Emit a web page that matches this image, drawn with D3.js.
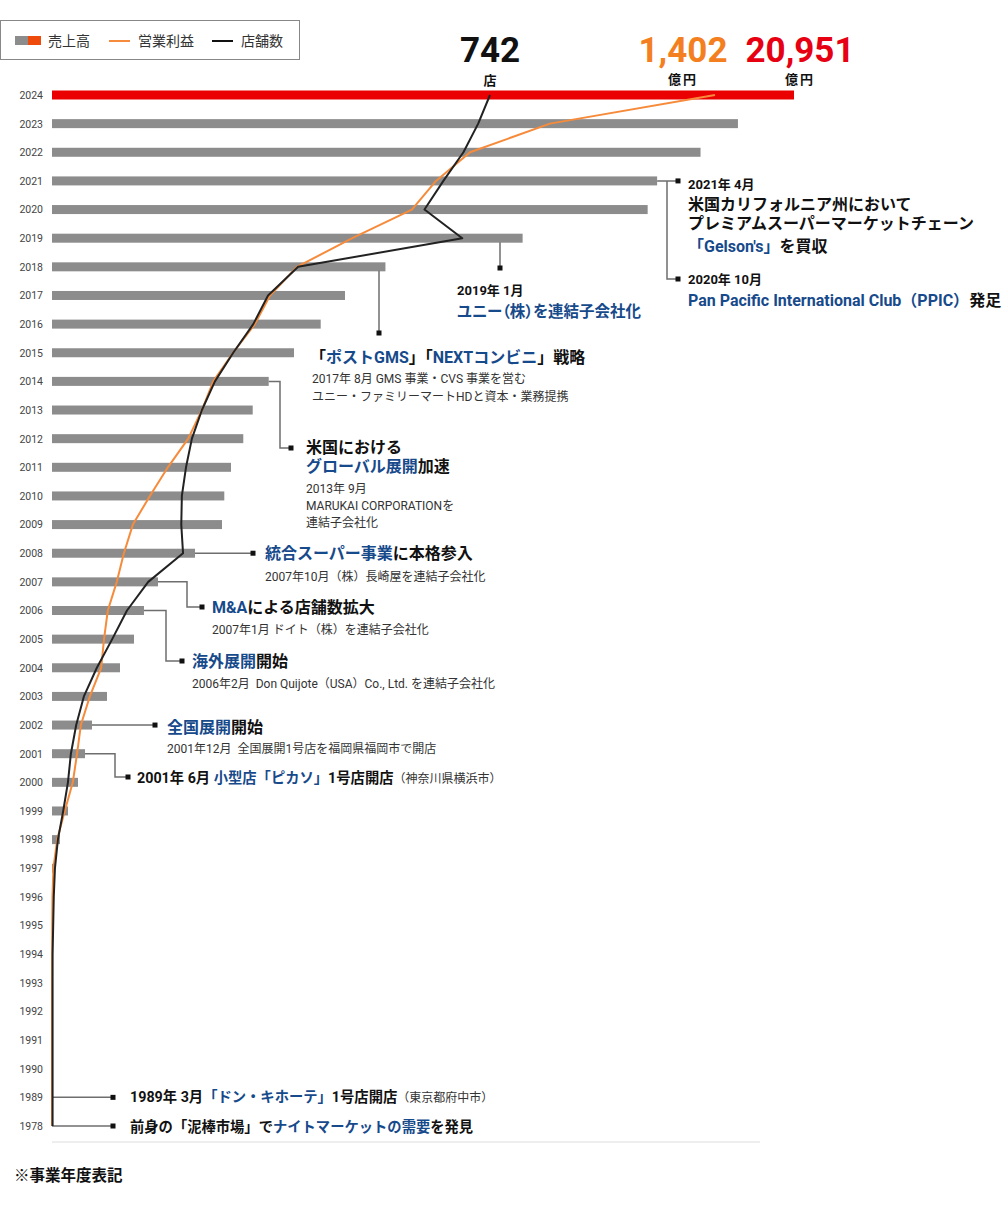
<!DOCTYPE html>
<html><head><meta charset="utf-8">
<script src="https://cdn.jsdelivr.net/npm/d3@7"></script>
<style>
body{margin:0;background:#fff;}
svg text{font-family:Roboto,"Noto Sans CJK JP",sans-serif;}
</style></head><body>
<svg id="c" width="1008" height="1215"></svg>
<script>
const years = ["2024","2023","2022","2021","2020","2019","2018","2017","2016","2015","2014","2013","2012","2011","2010","2009","2008","2007","2006","2005","2004","2003","2002","2001","2000","1999","1998","1997","1996","1995","1994","1993","1992","1991","1990","1989","1978"];
// 売上高（億円）
const sales = [20951,19368,18312,17086,16819,13288,9415,8273,7587,6833,6119,5667,5401,5054,4865,4800,4038,2993,2597,2315,1920,1553,1129,932,734,452,226,85,56,28,14,8,5,3,2,1,0];
// 営業利益（億円）
const profit = [1402,1053,884,812,761,635,518,461,429,383,341,317,288,245,207,171,152,137,118,110,104,80,61,53,44,27,11,3,1,0.5,0.3,0,0,0,0,0,0];
// 店舗数
const stores = [742,722,697,663,631,695,417,366,341,307,276,254,237,227,220,219,222,163,127,102,76,54,41,32,27,19,10,5,3,2,1,1,1,1,1,1,1];
const legendLabels = ["売上高","営業利益","店舗数"];

const BLUE = "#174a8b", ORANGE = "#f68b3b", RED = "#ea0000", GRAY = "#8c8c8c";
const svg = d3.select("#c");

const y = d3.scalePoint().domain(years).range([95, 1126]);
const xS = d3.scaleLinear().domain([0, sales[0]]).range([52, 794]);
const xP = d3.scaleLinear().domain([0, profit[0]]).range([52, 715]);
const xN = d3.scaleLinear().domain([0, stores[0]]).range([52, 490]);

// year axis
const ax = svg.append("g").attr("transform","translate(43,0)")
  .call(d3.axisLeft(y).tickSize(0).tickPadding(0));
ax.select(".domain").remove();
ax.selectAll("text").attr("font-size","10.5px").attr("fill","#444")
  .style("font-family","Roboto, 'Noto Sans CJK JP'");

// bottom baseline
svg.append("line").attr("x1",52).attr("x2",760).attr("y1",1142).attr("y2",1142)
  .attr("stroke","#ddd").attr("stroke-width",1);

// bars
svg.append("g").selectAll("rect").data(years).join("rect")
  .attr("x", xS(0))
  .attr("y", d => y(d) - 4.5)
  .attr("height", 9)
  .attr("width", (d,i) => Math.max(0, xS(sales[i]) - xS(0)))
  .attr("fill", (d,i) => i === 0 ? RED : GRAY);

// annotation connectors
const conn = svg.append("g").attr("fill","none").attr("stroke","#6e6e6e").attr("stroke-width",1.5);
const sq = svg.append("g").attr("fill","#111");
function square(x, yy){ sq.append("rect").attr("x",x-2.5).attr("y",yy-2.5).attr("width",5).attr("height",5); }
const idx = yr => years.indexOf(yr);
const be = yr => xS(sales[idx(yr)]);
const ry = yr => y(yr);

conn.append("path").attr("d", `M${be("2021")},${ry("2021")}H667V279H678M667,${ry("2021")}H678`);
square(678, ry("2021")); square(678, 279);
conn.append("path").attr("d", `M500,${ry("2019")+4}V268`); square(500,268);
conn.append("path").attr("d", `M379,${ry("2018")+4}V333`); square(379,333);
conn.append("path").attr("d", `M${be("2014")},${ry("2014")}H280V448H291`); square(291,448);
conn.append("path").attr("d", `M${be("2008")},${ry("2008")}H253`); square(253, ry("2008"));
conn.append("path").attr("d", `M${be("2007")},${ry("2007")}H187V607H202`); square(202,607);
conn.append("path").attr("d", `M${be("2006")},${ry("2006")}H166V661H182`); square(182,661);
conn.append("path").attr("d", `M${be("2002")},${ry("2002")}H155`); square(155, ry("2002"));
conn.append("path").attr("d", `M${be("2001")},${ry("2001")}H115V777H128`); square(128,777);
conn.append("path").attr("d", `M52,${ry("1989")}H113`); square(113, ry("1989"));
conn.append("path").attr("d", `M52,${ry("1978")}H113`); square(113, ry("1978"));

// lines
const lineP = d3.line().x((d,i)=>xP(profit[i])).y(d=>y(d));
const lineN = d3.line().x((d,i)=>xN(stores[i])).y(d=>y(d));
svg.append("path").datum(years).attr("d", lineP).attr("fill","none")
  .attr("stroke", ORANGE).attr("stroke-width",2).attr("stroke-linejoin","round");
svg.append("path").datum(years).attr("d", lineN).attr("fill","none")
  .attr("stroke", "#222").attr("stroke-width",2).attr("stroke-linejoin","round");

// text helper: segments [text, color, size, weight]
function txt(x, yy, segs, opts={}){
  const t = svg.append("text").attr("x",x).attr("y",yy).attr("dy","0.35em")
    .style("white-space","pre");
  if (opts.palt) t.style("font-feature-settings", "'palt'");
  segs.forEach(s => {
    t.append("tspan").text(s[0]).attr("fill", s[1] || "#111")
      .attr("font-size", (s[2]||16)+"px").attr("font-weight", s[3]||700);
  });
  return t;
}
const B = null;
const small = (s) => [s, "#333", 12, 400];
const F = 14.3;

txt(688, 183, [["2021年 4月", B, 13]]);
txt(688, 204, [["米国カリフォルニア州において", B, 16]]);
txt(688, 223, [["プレミアムスーパーマーケットチェーン", B, 16]]);
txt(688, 246, [["「Gelson's」", BLUE, 16],["を買収", B, 16]]);
txt(688, 278, [["2020年 10月", B, 13]]);
txt(688, 300, [["Pan Pacific International Club（PPIC）", BLUE, 16],["発足", B, 16]]);
txt(457, 289, [["2019年 1月", B, 13]]);
txt(457, 311, [["ユニー（株）を連結子会社化", BLUE, 15.5]], {palt:true});
txt(310, 357, [["「", B],["ポストGMS", BLUE],["」「", B],["NEXTコンビニ", BLUE],["」戦略", B]]);
txt(312, 377, [small("2017年 8月 GMS 事業・CVS 事業を営む")]);
txt(312, 395, [small("ユニー・ファミリーマートHDと資本・業務提携")]);
txt(306, 447, [["米国における", B]]);
txt(306, 466, [["グローバル展開", BLUE],["加速", B]]);
txt(306, 487, [small("2013年 9月")]);
txt(306, 504, [small("MARUKAI CORPORATIONを")]);
txt(306, 521, [small("連結子会社化")]);
txt(265, 553, [["統合スーパー事業", BLUE],["に本格参入", B]]);
txt(265, 575, [small("2007年10月（株）長崎屋を連結子会社化")]);
txt(212, 607, [["M&A", BLUE],["による店舗数拡大", B]]);
txt(212, 628, [small("2007年1月 ドイト（株）を連結子会社化")]);
txt(192, 661, [["海外展開", BLUE],["開始", B]]);
txt(192, 682, [small("2006年2月  Don Quijote（USA）Co., Ltd. を連結子会社化")]);
txt(167, 727, [["全国展開", BLUE],["開始", B]]);
txt(167, 747, [small("2001年12月  全国展開1号店を福岡県福岡市で開店")]);
txt(137, 777, [["2001年 6月 ", B, F],["小型店「ピカソ」", BLUE, F],["1号店開店", B, F],["（神奈川県横浜市）", "#333", 12, 400]]);
txt(130, 1096, [["1989年 3月", B, F],["「ドン・キホーテ」", BLUE, F],["1号店開店", B, F],["（東京都府中市）", "#333", 12, 400]]);
txt(130, 1126, [["前身の「泥棒市場」で", B, F],["ナイトマーケットの需要", BLUE, F],["を発見", B, F]]);

// totals at top
const fmt = d3.format(",");
svg.append("text").attr("x", xN(stores[0])).attr("y", 62).attr("text-anchor","middle")
  .attr("font-size","35px").attr("font-weight",700).attr("fill","#111").text(fmt(stores[0]));
svg.append("text").attr("x", xN(stores[0])).attr("y", 80).attr("dy","0.35em").attr("text-anchor","middle")
  .attr("font-size","13px").attr("font-weight",700).attr("fill","#111").text("店");
svg.append("text").attr("x", xP(profit[0]) - 32).attr("y", 62).attr("text-anchor","middle")
  .attr("font-size","35px").attr("font-weight",700).attr("fill","#f47f20").text(fmt(profit[0]));
svg.append("text").attr("x", xP(profit[0]) - 32).attr("y", 79).attr("dy","0.35em").attr("text-anchor","middle")
  .attr("font-size","13px").attr("font-weight",700).attr("fill","#111").attr("letter-spacing","2px").text("億円");
svg.append("text").attr("x", xS(sales[0]) + 6).attr("y", 62).attr("text-anchor","middle")
  .attr("font-size","35px").attr("font-weight",700).attr("fill","#e60012").text(fmt(sales[0]));
svg.append("text").attr("x", xS(sales[0]) + 6).attr("y", 79).attr("dy","0.35em").attr("text-anchor","middle")
  .attr("font-size","13px").attr("font-weight",700).attr("fill","#111").attr("letter-spacing","2px").text("億円");

// legend
const lg = svg.append("g");
lg.append("rect").attr("x",0.5).attr("y",20.5).attr("width",299).attr("height",39)
  .attr("fill","#fff").attr("stroke","#888");
lg.append("rect").attr("x",15).attr("y",36).attr("width",13).attr("height",9).attr("fill",GRAY);
lg.append("rect").attr("x",28).attr("y",36).attr("width",13).attr("height",9).attr("fill","#ee4a0c");
lg.append("line").attr("x1",109).attr("x2",130).attr("y1",41).attr("y2",41).attr("stroke",ORANGE).attr("stroke-width",2);
lg.append("line").attr("x1",212).attr("x2",233).attr("y1",41).attr("y2",41).attr("stroke","#111").attr("stroke-width",2);
[[48,legendLabels[0]],[138,legendLabels[1]],[241,legendLabels[2]]].forEach(d=>{
  lg.append("text").attr("x",d[0]).attr("y",41).attr("dy","0.35em").attr("font-size","14px")
    .attr("fill","#333").text(d[1]);
});

// footnote
svg.append("text").attr("x",14).attr("y",1176).attr("dy","0.35em").attr("font-size","15.5px")
  .attr("font-weight",700).attr("fill","#111").text("※事業年度表記");
</script>
</body></html>
